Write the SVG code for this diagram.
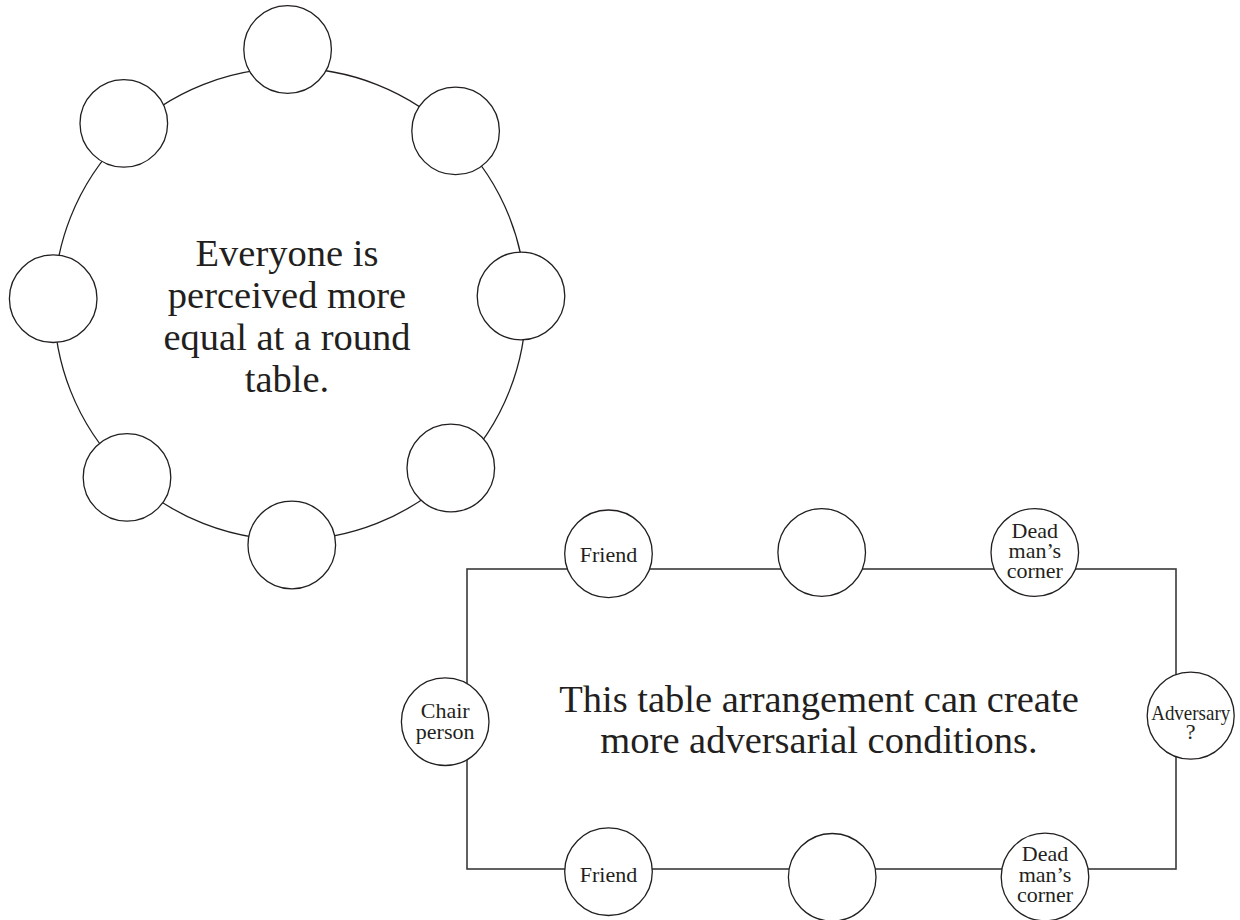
<svg xmlns="http://www.w3.org/2000/svg" width="1240" height="920" viewBox="0 0 1240 920">
<style>
.tbl{fill:none;stroke:#231f20;stroke-width:1.3}
.rect{fill:none;stroke:#3a3a3a;stroke-width:1.6}
.seat{fill:#fff;stroke:#231f20;stroke-width:1.3}
.big{font-family:"Liberation Serif","Times New Roman",serif;font-size:38.5px;fill:#231f20;text-anchor:middle}
.lbl{font-family:"Liberation Serif","Times New Roman",serif;font-size:22px;fill:#231f20;text-anchor:middle}
</style>
<rect width="1240" height="920" fill="#fff"/>
<g id="connectors">
<circle class="tbl" cx="290" cy="304" r="236"/>
<rect class="rect" x="467" y="569" width="709" height="300"/>
</g>
<g id="round-table">
<g id="r1"><circle class="seat" cx="287.6" cy="49.5" r="43.8"/></g>
<g id="r2"><circle class="seat" cx="123.8" cy="123.4" r="43.8"/></g>
<g id="r3"><circle class="seat" cx="455.6" cy="130.9" r="43.8"/></g>
<g id="r4"><circle class="seat" cx="53.2" cy="298.7" r="43.8"/></g>
<g id="r5"><circle class="seat" cx="521" cy="296" r="43.8"/></g>
<g id="r6"><circle class="seat" cx="127" cy="477.4" r="43.8"/></g>
<g id="r7"><circle class="seat" cx="450.8" cy="468" r="43.8"/></g>
<g id="r8"><circle class="seat" cx="291.8" cy="545" r="43.8"/></g>
<g id="round-label">
<text class="big" x="287" y="265.5">Everyone is</text>
<text class="big" x="287" y="307.5">perceived more</text>
<text class="big" x="287" y="349.5">equal at a round</text>
<text class="big" x="287" y="391.5">table.</text>
</g>
</g>
<g id="rect-table">
<g id="friend-top"><circle class="seat" cx="608.5" cy="553.8" r="43.8"/><text class="lbl" x="608.5" y="562">Friend</text></g>
<g id="mid-top"><circle class="seat" cx="821.7" cy="552.5" r="43.8"/></g>
<g id="dead-top"><circle class="seat" cx="1034.8" cy="552.5" r="43.8"/>
<text class="lbl" x="1034.8" y="537.7">Dead</text><text class="lbl" x="1034.8" y="558.3">man’s</text><text class="lbl" x="1034.8" y="578.3">corner</text></g>
<g id="chair"><circle class="seat" cx="445.2" cy="721.7" r="43.8"/>
<text class="lbl" x="445.2" y="718.3">Chair</text><text class="lbl" x="445.2" y="739">person</text></g>
<g id="adversary"><circle class="seat" cx="1190.7" cy="715.7" r="43.5"/>
<text class="lbl" x="1190.7" y="720" textLength="79" lengthAdjust="spacingAndGlyphs">Adversary</text><text class="lbl" x="1190.7" y="739.3">?</text></g>
<g id="friend-bottom"><circle class="seat" cx="608.5" cy="871.7" r="43.8"/><text class="lbl" x="608.5" y="881.7">Friend</text></g>
<g id="mid-bottom"><circle class="seat" cx="832.2" cy="877.3" r="43.8"/></g>
<g id="dead-bottom"><circle class="seat" cx="1045" cy="877" r="43.8"/>
<text class="lbl" x="1045" y="861">Dead</text><text class="lbl" x="1045" y="881.7">man’s</text><text class="lbl" x="1045" y="902.3">corner</text></g>
<g id="rect-label">
<text class="big" x="819" y="711.7">This table arrangement can create</text>
<text class="big" x="819" y="753.3">more adversarial conditions.</text>
</g>
</g>
</svg>
